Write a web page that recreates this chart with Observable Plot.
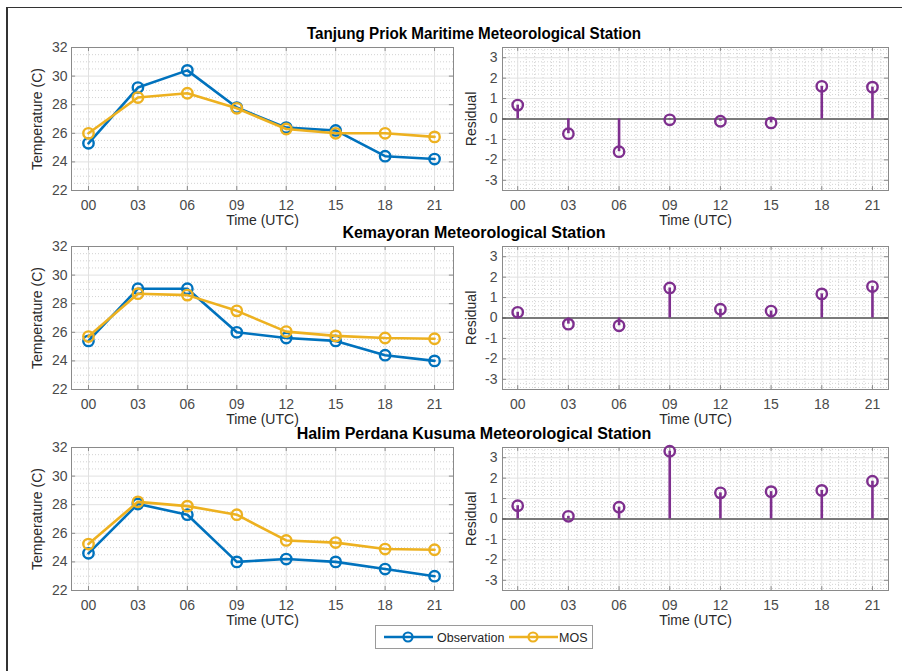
<!DOCTYPE html>
<html>
<head>
<meta charset="utf-8">
<script src="https://cdn.jsdelivr.net/npm/d3@7"></script>
<script src="https://cdn.jsdelivr.net/npm/@observablehq/plot@0.6"></script>
<style>
  html, body { margin: 0; padding: 0; background: #fff; }
  #page { position: relative; width: 902px; height: 671px; overflow: hidden; background: #fff;
          font-family: "Liberation Sans", Arial, sans-serif; }
  #border { position: absolute; left: 6px; top: 7px; right: -10px; bottom: -10px;
            border-left: 2px solid #333; border-top: 1.5px solid #333; }
  .panel { position: absolute; }
  .title { position: absolute; left: 0; width: 948px; text-align: center; font-weight: bold;
           font-size: 16px; line-height: 18px; color: #000; white-space: nowrap; }
  #legend { position: absolute; left: 375px; top: 625px; }
</style>
</head>
<body>
<div id="page">
  <div id="border"></div>
</div>
<script>
// Forecast hours (UTC) and their tick labels
const hours = [0, 3, 6, 9, 12, 15, 18, 21];
const hourLabels = ["00", "03", "06", "09", "12", "15", "18", "21"];

// Station names, one per row
const stations = [
  "Tanjung Priok Maritime Meteorological Station",
  "Kemayoran Meteorological Station",
  "Halim Perdana Kusuma Meteorological Station"
];

// Observed and MOS temperatures (°C) and residuals (MOS − observation)
const tanjungObs = [25.3, 29.2, 30.4, 27.8, 26.4, 26.2, 24.4, 24.2];
const tanjungMos = [26.0, 28.5, 28.8, 27.75, 26.3, 26.0, 26.0, 25.75];
const tanjungRes = [0.68, -0.72, -1.6, -0.04, -0.11, -0.19, 1.6, 1.56];

const kemayoranObs = [25.4, 29.05, 29.05, 26.0, 25.6, 25.4, 24.4, 24.0];
const kemayoranMos = [25.7, 28.7, 28.6, 27.5, 26.05, 25.75, 25.6, 25.55];
const kemayoranRes = [0.28, -0.3, -0.38, 1.47, 0.43, 0.34, 1.18, 1.54];

const halimObs = [24.6, 28.05, 27.3, 24.0, 24.2, 24.0, 23.5, 23.0];
const halimMos = [25.25, 28.2, 27.9, 27.3, 25.5, 25.35, 24.9, 24.85];
const halimRes = [0.65, 0.13, 0.58, 3.32, 1.28, 1.34, 1.4, 1.85];

// Axis ticks
const tempTicks = [22, 24, 26, 28, 30, 32];
const resTicks = [-3, -2, -1, 0, 1, 2, 3];

const obsColor = "#0072BD";
const mosColor = "#EDB120";
const resColor = "#7E2F8E";

const fontFamily = "'Liberation Sans', Arial, sans-serif";
const frameTops = [47, 246, 447];

function minorSteps(lo, hi, step, majors) {
  const out = [];
  for (let v = lo; v <= hi + 1e-9; v += step) {
    const r = Math.round(v * 1000) / 1000;
    if (!majors.some(m => Math.abs(m - r) < 1e-6)) out.push(r);
  }
  return out;
}

const baseStyle = {fontFamily, fontSize: "14px", color: "#4a4a4a", background: "transparent", overflow: "visible"};
const gridMinor = {stroke: "#c8c8c8", strokeOpacity: 1, strokeDasharray: "1,2", strokeWidth: 0.8};
const gridMajor = {stroke: "#e1e1e1", strokeOpacity: 1, strokeWidth: 1};
const tickLabel = d => hourLabels[hours.indexOf(d)];
const plainNumber = d => String(d);
const labelStyle = {text: d => d, fontSize: 14, fill: "#2a2a2a", textAnchor: "middle", lineAnchor: "middle"};

function tempPanel(obs, mos) {
  const rows = hours.map((h, i) => ({hour: h, obs: obs[i], mos: mos[i]}));
  const xd = [-1.03, 22.15], yd = [22, 32];
  const xt = 0.25, yt = 0.28; // inner tick lengths in data units
  return Plot.plot({
    width: 440, height: 193,
    marginLeft: 50, marginRight: 8, marginTop: 8, marginBottom: 42,
    style: baseStyle,
    x: {domain: xd, ticks: hours, tickFormat: tickLabel, tickSize: 0, tickPadding: 10, label: null},
    y: {domain: yd, ticks: tempTicks, tickFormat: plainNumber, tickSize: 0, tickPadding: 4, label: null},
    marks: [
      Plot.gridY(minorSteps(22, 32, 0.5, tempTicks), gridMinor),
      Plot.gridY(tempTicks, gridMajor),
      Plot.gridX(hours, gridMajor),
      Plot.frame({stroke: "#8a8a8a", strokeWidth: 1}),
      Plot.ruleX(hours, {x: d => d, y1: yd[1], y2: yd[1] - yt, stroke: "#8a8a8a"}),
      Plot.ruleX(hours, {x: d => d, y1: yd[0], y2: yd[0] + yt, stroke: "#8a8a8a"}),
      Plot.ruleY(tempTicks, {y: d => d, x1: xd[0], x2: xd[0] + xt, stroke: "#8a8a8a"}),
      Plot.ruleY(tempTicks, {y: d => d, x1: xd[1], x2: xd[1] - xt, stroke: "#8a8a8a"}),
      Plot.line(rows, {x: "hour", y: "obs", stroke: obsColor, strokeWidth: 2.6}),
      Plot.dot(rows, {x: "hour", y: "obs", r: 5.2, stroke: obsColor, strokeWidth: 2.4, fill: "none"}),
      Plot.line(rows, {x: "hour", y: "mos", stroke: mosColor, strokeWidth: 2.6}),
      Plot.dot(rows, {x: "hour", y: "mos", r: 5.2, stroke: mosColor, strokeWidth: 2.4, fill: "none"}),
      Plot.text(["Temperature (C)"], {...labelStyle, frameAnchor: "left", dx: -34, rotate: -90}),
      Plot.text(["Time (UTC)"], {...labelStyle, frameAnchor: "bottom", dy: 30})
    ]
  });
}

function residualPanel(res) {
  const rows = hours.map((h, i) => ({hour: h, res: res[i]}));
  const xd = [-0.9, 21.95], yd = [-3.5, 3.5];
  const xt = 0.24, yt = 0.19;
  return Plot.plot({
    width: 444, height: 193,
    marginLeft: 50, marginRight: 8, marginTop: 8, marginBottom: 42,
    style: baseStyle,
    x: {domain: xd, ticks: hours, tickFormat: tickLabel, tickSize: 0, tickPadding: 10, label: null},
    y: {domain: yd, ticks: resTicks, tickFormat: plainNumber, tickSize: 0, tickPadding: 5, label: null},
    marks: [
      Plot.gridY(minorSteps(-3.4, 3.4, 0.2, resTicks), gridMinor),
      Plot.gridX(minorSteps(-0.5, 21.5, 0.5, hours), gridMinor),
      Plot.gridY(resTicks, gridMajor),
      Plot.gridX(hours, gridMajor),
      Plot.frame({stroke: "#8a8a8a", strokeWidth: 1}),
      Plot.ruleX(hours, {x: d => d, y1: yd[1], y2: yd[1] - yt, stroke: "#8a8a8a"}),
      Plot.ruleX(hours, {x: d => d, y1: yd[0], y2: yd[0] + yt, stroke: "#8a8a8a"}),
      Plot.ruleY(resTicks, {y: d => d, x1: xd[0], x2: xd[0] + xt, stroke: "#8a8a8a"}),
      Plot.ruleY(resTicks, {y: d => d, x1: xd[1], x2: xd[1] - xt, stroke: "#8a8a8a"}),
      Plot.ruleY([0], {stroke: "#555", strokeWidth: 1.4}),
      Plot.ruleX(rows, {x: "hour", y1: 0, y2: "res", stroke: resColor, strokeWidth: 2.6}),
      Plot.dot(rows, {x: "hour", y: "res", r: 5.2, stroke: resColor, strokeWidth: 2.4, fill: "none"}),
      Plot.text(["Residual"], {...labelStyle, frameAnchor: "left", dx: -31, rotate: -90}),
      Plot.text(["Time (UTC)"], {...labelStyle, frameAnchor: "bottom", dy: 30})
    ]
  });
}

const page = document.getElementById("page");
const series = [
  [tanjungObs, tanjungMos, tanjungRes],
  [kemayoranObs, kemayoranMos, kemayoranRes],
  [halimObs, halimMos, halimRes]
];

series.forEach(([obs, mos, res], i) => {
  const top = frameTops[i] - 8;
  const left = tempPanel(obs, mos);
  left.classList.add("panel");
  left.style.left = "21px";
  left.style.top = top + "px";
  page.appendChild(left);

  const right = residualPanel(res);
  right.classList.add("panel");
  right.style.left = "452px";
  right.style.top = top + "px";
  page.appendChild(right);

  const t = document.createElement("div");
  t.className = "title";
  t.textContent = stations[i];
  t.style.top = (frameTops[i] - 22) + "px";
  if (i === 0) t.style.transform = "scaleX(0.95)";
  page.appendChild(t);
});

// Legend below the panels
const legend = document.createElement("div");
legend.id = "legend";
legend.innerHTML = `
<svg width="218" height="24" font-family="'Liberation Sans', Arial, sans-serif" font-size="12.5">
  <rect x="0.5" y="0.5" width="217" height="23" fill="#fff" stroke="#9a9a9a"/>
  <line x1="9" x2="58" y1="12" y2="12" stroke="${obsColor}" stroke-width="2.4"/>
  <circle cx="33" cy="12" r="4.5" fill="none" stroke="${obsColor}" stroke-width="2.2"/>
  <text x="62" y="16.5" fill="#262626">Observation</text>
  <line x1="134" x2="183" y1="12" y2="12" stroke="${mosColor}" stroke-width="2.4"/>
  <circle cx="158" cy="12" r="4.5" fill="none" stroke="${mosColor}" stroke-width="2.2"/>
  <text x="184" y="16.5" fill="#262626">MOS</text>
</svg>`;
page.appendChild(legend);
</script>
</body>
</html>
